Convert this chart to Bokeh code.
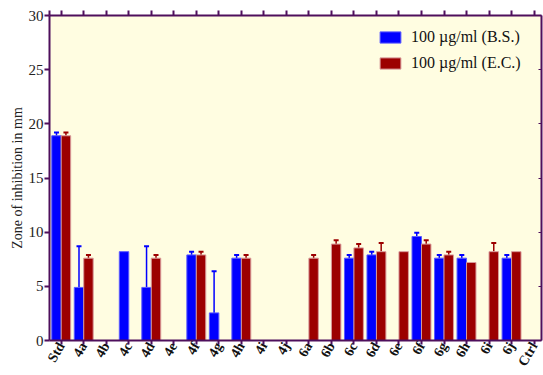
import math
from bokeh.plotting import figure
from bokeh.models import (ColumnDataSource, FixedTicker, LinearAxis, Range1d,
                          Whisker, TeeHead, Legend, LegendItem)
from bokeh.embed import file_html
from bokeh.resources import INLINE

nan = float("nan")

categories = ["Std", "4a", "4b", "4c", "4d", "4e", "4f", "4g", "4h", "4i", "4j",
              "6a", "6b", "6c", "6d", "6e", "6f", "6g", "6h", "6i", "6j", "Ctrl"]
bs_values = [18.9, 4.9, nan, 8.2, 4.9, nan, 7.9, 2.55, 7.6, nan, nan,
             nan, nan, 7.6, 7.9, nan, 9.6, 7.6, 7.6, nan, 7.6, nan]
bs_errors = [0.3, 3.8, 0, 0, 3.8, 0, 0.3, 3.85, 0.3, 0, 0,
             0, 0, 0.3, 0.3, 0, 0.35, 0.3, 0.3, 0, 0.3, 0]
ec_values = [18.9, 7.6, nan, nan, 7.6, nan, 7.9, nan, 7.6, nan, nan,
             7.6, 8.9, 8.55, 8.2, 8.2, 8.9, 7.9, 7.2, 8.2, 8.2, nan]
ec_errors = [0.3, 0.3, 0, 0, 0.3, 0, 0.3, 0, 0.3, 0, 0,
             0.3, 0.35, 0.35, 0.8, 0, 0.35, 0.3, 0, 0.8, 0, 0]
series_names = ["100 \u00b5g/ml (B.S.)", "100 \u00b5g/ml (E.C.)"]
y_ticks = [0, 5, 10, 15, 20, 25, 30]

BLUE = "#0000FF"
RED = "#9C0000"
AXIS = "#4E0F5C"
BG = "#FFFDE1"
SERIF = "Liberation Serif"
BW = 0.42


def build(values, errors, offset):
    x, top, ex, lo, hi = [], [], [], [], []
    for i, (v, e) in enumerate(zip(values, errors)):
        if v == v:
            x.append(i + offset)
            top.append(v)
            if e > 0:
                ex.append(i + offset)
                lo.append(v)
                hi.append(v + e)
    bars = ColumnDataSource(dict(x=x, top=top))
    errs = ColumnDataSource(dict(x=ex, lower=lo, upper=hi))
    return bars, errs


p = figure(width=543, height=375, output_backend="svg", toolbar_location=None,
           x_range=Range1d(-0.52, 21.33), y_range=Range1d(0, 30),
           min_border_left=49, min_border_top=15, min_border_right=2,
           min_border_bottom=33, background_fill_color=BG,
           border_fill_color="white", outline_line_color=None)
p.grid.visible = False

bs_bars, bs_errs = build(bs_values, bs_errors, -BW / 2)
ec_bars, ec_errs = build(ec_values, ec_errors, BW / 2)

for errs, col in ((bs_errs, BLUE), (ec_errs, RED)):
    w = Whisker(source=errs, base="x", lower="lower", upper="upper",
                dimension="height", line_color=col, line_width=1.5,
                upper_head=TeeHead(size=5, line_color=col, line_width=2),
                lower_head=None)
    p.add_layout(w)

r_bs = p.vbar(x="x", top="top", bottom=0, width=BW, source=bs_bars,
              fill_color=BLUE, line_color="#5A5AFF", line_width=1)
r_ec = p.vbar(x="x", top="top", bottom=0, width=BW, source=ec_bars,
              fill_color=RED, line_color="#D89A9A", line_width=1)

xt = list(range(len(categories)))
xax = p.xaxis[0]
xax.ticker = FixedTicker(ticks=xt)
xax.major_label_overrides = {i: c for i, c in enumerate(categories)}
xax.major_label_orientation = math.pi / 3
xax.major_label_text_font = SERIF
xax.major_label_text_font_style = "bold"
xax.major_label_text_font_size = "14px"
xax.major_label_text_color = "#111111"
xax.major_label_standoff = -1

yax = p.yaxis[0]
yax.ticker = FixedTicker(ticks=y_ticks)
yax.major_label_text_font = SERIF
yax.major_label_text_font_size = "15px"
yax.major_label_text_color = "#222222"
yax.major_label_standoff = 1
yax.axis_label = "Zone of inhibition in mm"
yax.axis_label_text_font = SERIF
yax.axis_label_text_font_style = "normal"
yax.axis_label_text_font_size = "14px"
yax.axis_label_text_color = "#222222"
yax.axis_label_standoff = 1

for ax in (xax, yax):
    ax.axis_line_color = AXIS
    ax.axis_line_width = 2
    ax.major_tick_line_color = AXIS
    ax.major_tick_line_width = 2
    ax.major_tick_out = 4
    ax.major_tick_in = 0
    ax.minor_tick_line_color = None
yax.major_tick_out = 5

top_ticks = [-0.52] + xt
top_ax = LinearAxis(ticker=FixedTicker(ticks=top_ticks),
                    major_label_overrides={t: "" for t in top_ticks},
                    axis_line_color=AXIS, axis_line_width=2,
                    major_tick_line_color=AXIS, major_tick_line_width=2,
                    major_tick_out=5, major_tick_in=0,
                    minor_tick_line_color=None, major_label_standoff=0)
p.add_layout(top_ax, "above")
right_ax = LinearAxis(ticker=FixedTicker(ticks=y_ticks),
                      major_label_overrides={t: "" for t in y_ticks},
                      axis_line_color=AXIS, axis_line_width=2,
                      major_tick_line_color=AXIS, major_tick_line_width=1,
                      major_tick_out=0, major_tick_in=3,
                      minor_tick_line_color=None, major_label_standoff=0)
p.add_layout(right_ax, "right")

legend = Legend(items=[LegendItem(label=series_names[0], renderers=[r_bs]),
                       LegendItem(label=series_names[1], renderers=[r_ec])],
                location=(328, 268), padding=0, margin=0, spacing=8,
                glyph_width=26, glyph_height=14, label_height=14,
                label_standoff=8, label_text_font=SERIF,
                label_text_font_size="16px", label_text_color="#111111",
                background_fill_alpha=0, border_line_alpha=0)
p.add_layout(legend, "center")

open("out.html", "w").write(file_html(p, INLINE))
